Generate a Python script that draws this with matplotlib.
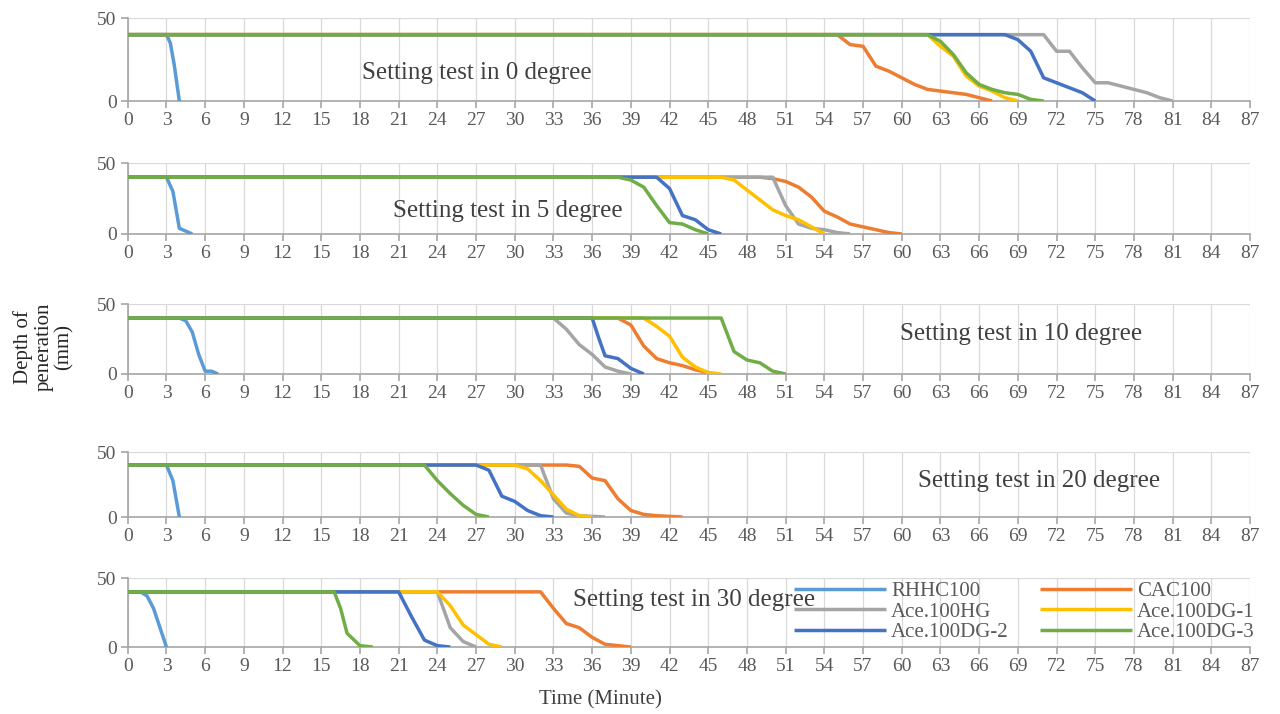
import matplotlib.pyplot as plt

plt.rcParams['font.family'] = ['Liberation Serif', 'DejaVu Serif']

names = ['RHHC100', 'CAC100', 'Ace.100HG', 'Ace.100DG-1', 'Ace.100DG-2', 'Ace.100DG-3']
colors = ['#5B9BD5', '#ED7D31', '#A5A5A5', '#FFC000', '#4472C4', '#70AD47']
titles = ['Setting test in 0 degree', 'Setting test in 5 degree', 'Setting test in 10 degree',
          'Setting test in 20 degree', 'Setting test in 30 degree']

# (time in minutes, depth of penetration in mm)
rhhc_0 = [(0, 40), (3, 40), (3.3, 35), (3.6, 22), (4, 0)]
cac_0 = [(0, 40), (55, 40), (56, 34), (57, 33), (58, 21), (59, 18), (60, 14), (61, 10), (62, 7),
         (63, 6), (64, 5), (65, 4), (66, 2), (67, 0)]
hg_0 = [(0, 40), (71, 40), (72, 30), (73, 30), (74, 20), (75, 11), (76, 11), (77, 9), (78, 7),
        (79, 5), (80, 2), (81, 0)]
dg1_0 = [(0, 40), (62, 40), (63, 33), (64, 27), (65, 15), (66, 9), (67, 6), (68, 2), (69, 0)]
dg2_0 = [(0, 40), (68, 40), (69, 37), (70, 30), (71, 14), (72, 11), (73, 8), (74, 5), (75, 0)]
dg3_0 = [(0, 40), (62, 40), (63, 36), (64, 28), (65, 17), (66, 10), (67, 7), (68, 5), (69, 4),
         (70, 1), (71, 0)]

rhhc_5 = [(0, 40), (3, 40), (3.5, 30), (4, 4), (5, 0)]
cac_5 = [(0, 40), (49, 40), (50, 39), (51, 37), (52, 33), (53, 26), (54, 16), (55, 12), (56, 7),
         (57, 5), (58, 3), (59, 1), (60, 0)]
hg_5 = [(0, 40), (50, 40), (51, 20), (52, 7), (53, 4), (54, 3), (55, 1), (56, 0)]
dg1_5 = [(0, 40), (46, 40), (47, 38), (48, 31), (49, 24), (50, 17), (51, 13), (52, 10), (53, 5),
         (54, 0)]
dg2_5 = [(0, 40), (41, 40), (42, 32), (43, 13), (44, 10), (45, 3), (46, 0)]
dg3_5 = [(0, 40), (38, 40), (39, 38), (40, 33), (41, 20), (42, 8), (43, 7), (44, 3), (45, 0)]

rhhc_10 = [(0, 40), (4, 40), (4.5, 38), (5, 30), (5.5, 14), (6, 2), (6.5, 2), (7, 0)]
cac_10 = [(0, 40), (38, 40), (39, 35), (40, 20), (41, 11), (42, 8), (43, 6), (44, 3), (45, 1),
          (45.5, 0)]
hg_10 = [(0, 40), (33, 40), (34, 32), (35, 21), (36, 14), (37, 5), (38, 2), (39, 0)]
dg1_10 = [(0, 40), (40, 40), (41, 34), (42, 27), (43, 12), (44, 5), (45, 1), (46, 0)]
dg2_10 = [(0, 40), (36, 40), (36.5, 26), (37, 13), (38, 11), (39, 4), (40, 0)]
dg3_10 = [(0, 40), (46, 40), (46.5, 28), (47, 16), (48, 10), (49, 8), (50, 2), (51, 0)]

rhhc_20 = [(0, 40), (3, 40), (3.5, 28), (4, 0)]
cac_20 = [(0, 40), (34, 40), (35, 39), (36, 30), (37, 28), (38, 14), (39, 5), (40, 2), (41, 1),
          (43, 0)]
hg_20 = [(0, 40), (32, 40), (33, 14), (34, 3), (35, 1), (37, 0)]
dg1_20 = [(0, 40), (30, 40), (31, 37), (32, 28), (33, 17), (34, 6), (35, 1), (36, 0)]
dg2_20 = [(0, 40), (27, 40), (28, 36), (29, 16), (30, 12), (31, 5), (32, 1), (33, 0)]
dg3_20 = [(0, 40), (23, 40), (24, 28), (25, 18), (26, 9), (27, 2), (28, 0)]

rhhc_30 = [(0, 40), (1, 40), (1.5, 37), (2, 28), (2.5, 14), (3, 0)]
cac_30 = [(0, 40), (32, 40), (33, 28), (34, 17), (35, 14), (36, 7), (37, 2), (38, 1), (39, 0)]
hg_30 = [(0, 40), (24, 40), (25, 14), (26, 4), (27, 0)]
dg1_30 = [(0, 40), (24, 40), (25, 30), (26, 16), (27, 9), (28, 2), (29, 0)]
dg2_30 = [(0, 40), (21, 40), (22, 22), (23, 5), (24, 1), (25, 0)]
dg3_30 = [(0, 40), (16, 40), (16.5, 28), (17, 10), (18, 1), (19, 0)]

panels = [
    [rhhc_0, cac_0, hg_0, dg1_0, dg2_0, dg3_0],
    [rhhc_5, cac_5, hg_5, dg1_5, dg2_5, dg3_5],
    [rhhc_10, cac_10, hg_10, dg1_10, dg2_10, dg3_10],
    [rhhc_20, cac_20, hg_20, dg1_20, dg2_20, dg3_20],
    [rhhc_30, cac_30, hg_30, dg1_30, dg2_30, dg3_30],
]

# axes boxes in figure fractions: left, bottom, width, height
boxes = [
    (0.0998, 0.8585, 0.8768, 0.1162),
    (0.0998, 0.6723, 0.8768, 0.0994),
    (0.0998, 0.4762, 0.8768, 0.0980),
    (0.0998, 0.2759, 0.8768, 0.0910),
    (0.0998, 0.0938, 0.8768, 0.0966),
]
title_pos = [(0.209, 0.34), (0.236, 0.32), (0.688, 0.57), (0.704, 0.55), (0.397, 0.68)]

fig = plt.figure(figsize=(12.8, 7.14), dpi=100)
grey_txt = '#595959'
axes = []
for i, series in enumerate(panels):
    ax = fig.add_axes(boxes[i])
    for s, name, c in zip(series, names, colors):
        t = [p[0] for p in s]
        d = [p[1] for p in s]
        ax.plot(t, d, color=c, lw=2.5, label=name, solid_capstyle='butt')
    ax.set_xlim(0, 87)
    ax.set_ylim(0, 50)
    ax.set_xticks(range(0, 88, 3))
    ax.set_yticks([0, 50])
    ax.grid(True, color='#D9D9D9', lw=0.9)
    ax.set_axisbelow(True)
    for sp in ['top', 'right']:
        ax.spines[sp].set_visible(False)
    for sp in ['left', 'bottom']:
        ax.spines[sp].set_color('#A6A6A6')
        ax.spines[sp].set_linewidth(1.2)
        ax.spines[sp].set_zorder(1)
    ax.tick_params(colors='#A6A6A6', labelcolor=grey_txt, labelsize=14, length=5, width=1.2,
                   pad=3)
    ax.text(title_pos[i][0], title_pos[i][1], titles[i], transform=ax.transAxes,
            fontsize=18, color='#404040', ha='left', va='center')
    axes.append(ax)

h, l = axes[4].get_legend_handles_labels()
order = [0, 2, 4, 1, 3, 5]
axes[4].legend([h[k] for k in order], [l[k] for k in order], ncol=2, frameon=False,
               loc='center right', bbox_to_anchor=(1.004, 0.51), fontsize=15,
               handlelength=4.4, handletextpad=0.25, columnspacing=1.5, labelspacing=0.05,
               borderpad=0.0, borderaxespad=0.0, labelcolor=grey_txt)

fig.text(0.034, 1 - 347 / 714, 'Depth of\npeneration\n(mm)', rotation=90, ha='center',
         va='center', fontsize=15, color='#262626', multialignment='center', linespacing=1.1)
fig.text(600 / 1280, 1 - 700 / 714, 'Time (Minute)', ha='center', va='center', fontsize=15,
         color='#404040')

plt.savefig('out.png', dpi=100)
